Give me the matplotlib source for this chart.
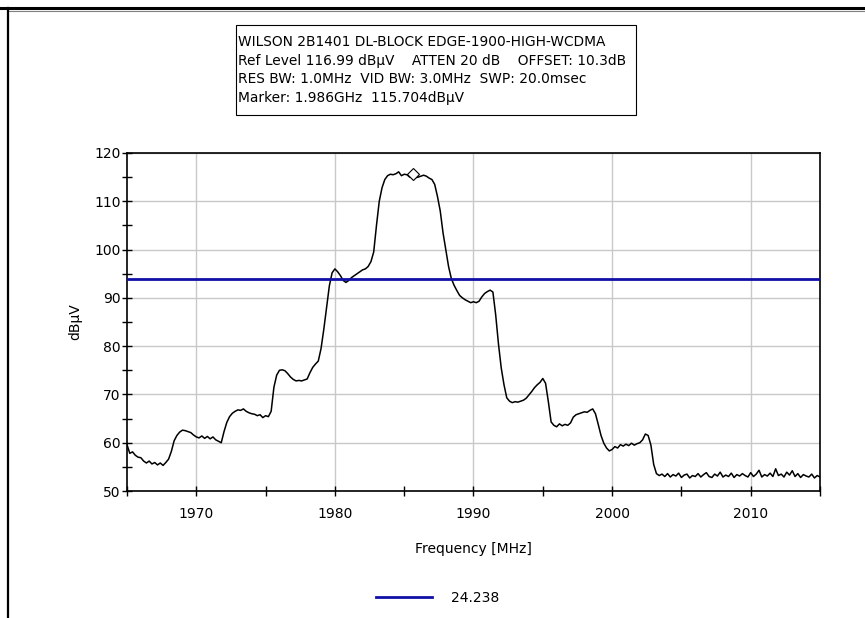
import numpy as np
import matplotlib

matplotlib.use("Agg")
import matplotlib.pyplot as plt
import matplotlib.patches as patches
from matplotlib.lines import Line2D

# sweep settings
FREQ_START = 1965.0
FREQ_STOP = 2015.0

# measured trace in dBuV, one value every 0.2 MHz (each row spans 2 MHz)
levels = [
    59.6, 57.8, 58.1, 57.4, 57.0, 56.9, 56.2, 55.8, 56.2, 55.6,  # 1965
    55.9, 55.4, 55.8, 55.3, 55.9, 56.6, 58.2, 60.4, 61.5, 62.2,  # 1967
    62.6, 62.5, 62.3, 62.1, 61.6, 61.2, 61.0, 61.4, 60.9, 61.3,  # 1969
    60.8, 61.2, 60.6, 60.3, 60.0, 62.3, 64.2, 65.4, 66.1, 66.5,  # 1971
    66.8, 66.7, 67.0, 66.5, 66.2, 66.0, 65.9, 65.6, 65.8, 65.2,  # 1973
    65.6, 65.4, 66.5, 71.5, 74.0, 75.0, 75.1, 74.9, 74.3, 73.6,  # 1975
    73.1, 72.8, 72.9, 72.8, 73.0, 73.2, 74.5, 75.6, 76.3, 76.9,  # 1977
    79.5, 83.5, 88.0, 92.5, 95.2, 96.0, 95.4, 94.6, 93.6, 93.2,  # 1979
    93.6, 94.2, 94.6, 95.0, 95.4, 95.8, 96.0, 96.5, 97.5, 99.5,  # 1981
    105.0, 110.0, 112.8, 114.5, 115.3, 115.6, 115.5, 115.7, 116.1, 115.3,  # 1983
    115.6, 115.5, 115.0, 115.7, 114.9, 115.0, 115.2, 115.4, 115.2, 114.8,  # 1985
    114.5, 113.5, 111.0, 108.0, 103.5, 100.0, 96.5, 94.0, 92.6, 91.5,  # 1987
    90.5, 90.0, 89.6, 89.3, 89.0, 89.2, 89.0, 89.3, 90.2, 90.9,  # 1989
    91.3, 91.6, 91.2, 86.5, 80.5, 75.5, 72.0, 69.3, 68.6, 68.3,  # 1991
    68.5, 68.4, 68.6, 68.8, 69.2, 69.9, 70.6, 71.4, 72.0, 72.5,  # 1993
    73.3, 72.3, 68.5, 64.3, 63.6, 63.3, 63.9, 63.5, 63.8, 63.6,  # 1995
    64.1, 65.3, 65.8, 66.0, 66.2, 66.4, 66.3, 66.7, 67.0, 66.0,  # 1997
    63.8, 61.5, 59.9, 58.9, 58.3, 58.6, 59.2, 58.9, 59.6, 59.3,  # 1999
    59.7, 59.4, 59.9, 59.5, 59.8, 60.0, 60.6, 61.8, 61.5, 59.5,  # 2001
    55.5, 53.6, 53.2, 53.5, 53.0, 53.6, 52.9, 53.4, 53.1, 53.7,  # 2003
    52.8, 53.3, 53.5, 52.7, 53.2, 53.0, 53.6, 52.9, 53.4, 53.8,  # 2005
    53.0, 52.8, 53.5, 53.1, 53.9, 52.9, 53.3, 53.0, 53.7, 52.8,  # 2007
    53.4, 53.1, 53.6, 53.2, 52.9, 53.8, 53.0, 53.5, 54.3, 52.9,  # 2009
    53.4, 53.1, 53.7, 53.0, 54.6, 53.2, 53.5, 52.9, 53.9, 53.3,  # 2011
    54.2, 53.0, 53.6, 52.8, 53.4, 53.1, 52.9, 53.5, 52.7, 53.2,  # 2013
    52.9,  # 2015
]

limit_level = 94.0
limit_label = "24.238"

marker_freq = 1985.6
marker_level = 115.704

header_lines = [
    "WILSON 2B1401 DL-BLOCK EDGE-1900-HIGH-WCDMA",
    "Ref Level 116.99 dB\u00b5V    ATTEN 20 dB    OFFSET: 10.3dB",
    "RES BW: 1.0MHz  VID BW: 3.0MHz  SWP: 20.0msec",
    "Marker: 1.986GHz  115.704dB\u00b5V",
]

W, H = 865, 618

plt.rcParams["font.family"] = ["DejaVu Sans"]

fig = plt.figure(figsize=(W / 100, H / 100), dpi=100)
fig.patch.set_facecolor("white")


def fx(px):
    return px / W


def fy(py):
    return 1 - py / H


# window frame
fig.add_artist(Line2D([0, 1], [fy(8.3), fy(8.3)], color="black", lw=2.2))
fig.add_artist(Line2D([fx(9), 1], [fy(10.6), fy(10.6)], color="#808080", lw=0.8))
fig.add_artist(Line2D([fx(7.7), fx(7.7)], [0, fy(8.3)], color="black", lw=1.6))

# header box
fig.add_artist(
    patches.Rectangle(
        (fx(236), fy(115)),
        fx(636) - fx(236),
        fy(25) - fy(115),
        fill=False,
        edgecolor="black",
        lw=0.8,
    )
)
for i, line in enumerate(header_lines):
    fig.text(fx(238), fy(42 + i * 18.7), line, fontsize=9.9, va="center", ha="left")

ax = fig.add_axes([fx(127), fy(491), fx(820) - fx(127), fy(153) - fy(491)])

freqs = np.linspace(FREQ_START, FREQ_STOP, len(levels))
ax.plot(freqs, levels, color="black", lw=1.1, zorder=3)
ax.axhline(limit_level, color="#1010a8", lw=2.0, zorder=4, label=limit_label)
ax.plot(
    [marker_freq], [marker_level], marker="D", ms=6, mfc="white", mec="black",
    mew=0.8, zorder=5,
)

ax.set_xlim(FREQ_START, FREQ_STOP)
ax.set_ylim(50, 120)
ax.set_xticks(np.arange(1970, 2011, 10))
ax.set_xticks(np.arange(1965, 2016, 5), minor=True)
ax.set_yticks(np.arange(50, 121, 10))
ax.set_yticks(np.arange(55, 120, 10), minor=True)
ax.grid(True, which="major", color="#c8c8c8", lw=1.0)
ax.set_axisbelow(True)
ax.tick_params(which="both", direction="inout", length=7, width=1.0, labelsize=10,
               colors="black")
ax.tick_params(axis="x", pad=8)
ax.tick_params(axis="y", pad=1)
for s in ax.spines.values():
    s.set_linewidth(1.2)
    s.set_color("black")

ax.set_xlabel("Frequency [MHz]", fontsize=10, labelpad=15)
ax.set_ylabel("dB\u00b5V", fontsize=10, labelpad=9)

fig.legend(
    handles=[Line2D([], [], color="#1010a8", lw=2.0)],
    labels=[limit_label],
    loc="center",
    bbox_to_anchor=(fx(438), fy(598)),
    frameon=False,
    fontsize=10,
    handlelength=4.0,
    handletextpad=1.4,
)

fig.savefig("out.png", dpi=100)
